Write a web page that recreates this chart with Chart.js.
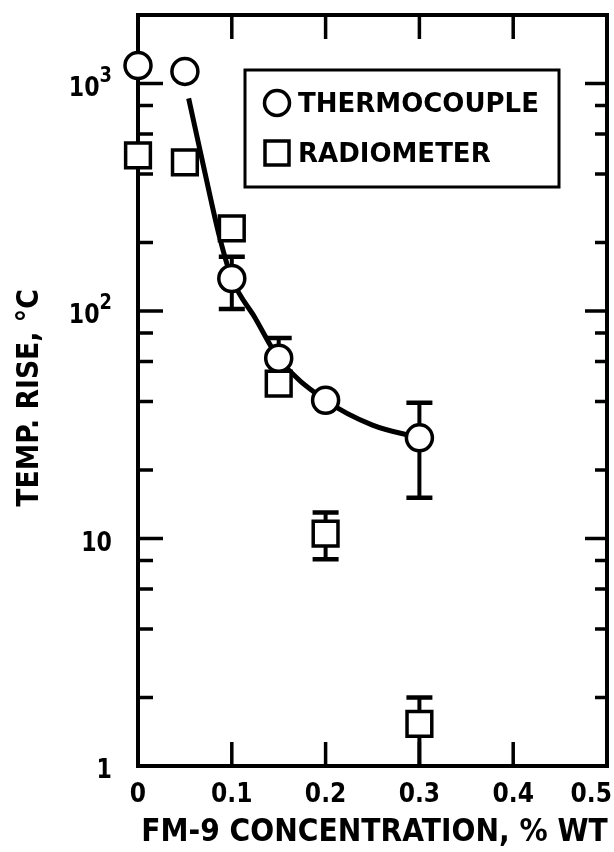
<!DOCTYPE html>
<html><head><meta charset="utf-8">
<script src="https://cdn.jsdelivr.net/npm/chart.js@4"></script>
<style>html,body{margin:0;padding:0;background:#fff}#wrap{width:614px;height:852px;position:relative}</style>
</head><body><div id="wrap"><canvas id="c"></canvas></div>
<script>
// ---- data ----
const thermoX = [0, 0.05, 0.1, 0.15, 0.2, 0.3];
const thermoY = [1200, 1130, 139, 62, 40.5, 27.7];
const thermoErrLow = [null, null, 102, 52, null, 15.1];
const thermoErrHigh = [null, null, 173, 76, null, 39.5];
const radioX = [0, 0.05, 0.1, 0.15, 0.2, 0.3];
const radioY = [483, 450, 231, 48, 10.5, 1.53];
const radioErrLow = [null, null, null, null, 8.1, 1];
const radioErrHigh = [null, null, null, null, 13, 2];
const curveX = [0.054, 0.07, 0.087, 0.1, 0.125, 0.15, 0.2, 0.25, 0.3];
const curveY = [860, 430, 211, 139, 93, 62, 40.5, 31.5, 27.7];
const xTickValues = [0, 0.1, 0.2, 0.3, 0.4, 0.5];
const xTickLabels = ['0', '0.1', '0.2', '0.3', '0.4', '0.5'];
const yMajorTicks = [1, 10, 100, 1000];
const yTickBase = ['1', '10', '10', '10'];
const yTickExp = ['', '', '2', '3'];
const yMinorTicks = [2, 4, 6, 8, 20, 40, 60, 80, 200, 400, 600, 800];
const seriesNames = ['THERMOCOUPLE', 'RADIOMETER'];
const xTitle = 'FM-9 CONCENTRATION, % WT';
const yTitle = 'TEMP. RISE, \u00B0C';

const F = "'DejaVu Sans', sans-serif";
function txt(ctx, s, x, y, size, align, sx) {
  ctx.save(); ctx.translate(x, y); ctx.scale(sx, 1);
  ctx.font = 'bold ' + size + 'px ' + F; ctx.textAlign = align; ctx.textBaseline = 'alphabetic';
  ctx.fillStyle = '#000'; ctx.fillText(s, 0, 0); ctx.restore();
}
function measure(ctx, s, size) { ctx.save(); ctx.font = 'bold ' + size + 'px ' + F; const w = ctx.measureText(s).width; ctx.restore(); return w; }

const decor = {
  id: 'decor',
  beforeDatasetsDraw(chart) {
    const { ctx, chartArea: a, scales: { x, y } } = chart;
    ctx.save();
    ctx.strokeStyle = '#000'; ctx.lineCap = 'butt';
    // frame
    ctx.lineWidth = 4;
    ctx.strokeRect(a.left, a.top, a.right - a.left, a.bottom - a.top);
    // ticks (inward on all four sides)
    ctx.lineWidth = 3.5;
    ctx.beginPath();
    yMajorTicks.forEach(v => { const p = y.getPixelForValue(v); ctx.moveTo(a.left, p); ctx.lineTo(a.left + 25, p); ctx.moveTo(a.right, p); ctx.lineTo(a.right - 22, p); });
    yMinorTicks.forEach(v => { const p = y.getPixelForValue(v); ctx.moveTo(a.left, p); ctx.lineTo(a.left + 15, p); ctx.moveTo(a.right, p); ctx.lineTo(a.right - 12, p); });
    xTickValues.forEach(v => { const p = x.getPixelForValue(v); if (p <= a.left + 2 || p >= a.right - 2) return; ctx.moveTo(p, a.top); ctx.lineTo(p, a.top + 24); ctx.moveTo(p, a.bottom); ctx.lineTo(p, a.bottom - 24); });
    ctx.stroke();
    // error bars
    function eb(xs, lo, hi) {
      for (let i = 0; i < xs.length; i++) {
        if (lo[i] == null) continue;
        const px = x.getPixelForValue(xs[i]);
        const p1 = y.getPixelForValue(lo[i]), p2 = y.getPixelForValue(hi[i]);
        ctx.lineWidth = 4; ctx.beginPath(); ctx.moveTo(px, p1); ctx.lineTo(px, p2); ctx.stroke();
        ctx.lineWidth = 4.5; ctx.beginPath();
        if (lo[i] > y.min) { ctx.moveTo(px - 13, p1); ctx.lineTo(px + 13, p1); }
        ctx.moveTo(px - 13, p2); ctx.lineTo(px + 13, p2); ctx.stroke();
      }
    }
    eb(thermoX, thermoErrLow, thermoErrHigh);
    eb(radioX, radioErrLow, radioErrHigh);
    ctx.restore();
  },
  afterDraw(chart) {
    const { ctx, chartArea: a, scales: { x, y } } = chart;
    ctx.save();
    // x tick labels
    xTickValues.forEach((v, i) => {
      let p = x.getPixelForValue(v);
      const w = measure(ctx, xTickLabels[i], 26) * 0.9;
      if (p + w / 2 > chart.width - 2) p = chart.width - 2 - w / 2;
      txt(ctx, xTickLabels[i], p, a.bottom + 27 + 0.365 * 26, 26, 'center', 0.9);
    });
    // y tick labels
    yMajorTicks.forEach((v, i) => {
      const p = y.getPixelForValue(v);
      const right = 112;
      let ew = 0;
      if (yTickExp[i]) {
        ew = measure(ctx, yTickExp[i], 21) * 0.85;
        txt(ctx, yTickExp[i], right, p + 0.365 * 26 - 11, 21, 'right', 0.85);
      }
      txt(ctx, yTickBase[i], right - ew, p + 0.365 * 26 + 3, 26, 'right', 0.85);
    });
    // axis titles
    txt(ctx, xTitle, (a.left + a.right) / 2 + 2, 829 + 0.365 * 32, 32, 'center', 0.88);
    ctx.save(); ctx.translate(27, 398); ctx.rotate(-Math.PI / 2);
    txt(ctx, yTitle, 0, 0.365 * 30, 30, 'center', 0.89);
    ctx.restore();
    // legend
    ctx.strokeStyle = '#000'; ctx.lineWidth = 3;
    ctx.strokeRect(245, 70, 314, 117);
    ctx.lineWidth = 3.5; ctx.fillStyle = '#fff';
    ctx.beginPath(); ctx.arc(277, 103, 12.5, 0, Math.PI * 2); ctx.fill(); ctx.stroke();
    ctx.beginPath(); ctx.rect(265, 141, 24, 24); ctx.fill(); ctx.stroke();
    txt(ctx, seriesNames[0], 298, 103 + 0.365 * 26, 26, 'left', 1);
    txt(ctx, seriesNames[1], 298, 153 + 0.365 * 26, 26, 'left', 1);
    ctx.restore();
  }
};

const pts = (xs, ys) => xs.map((v, i) => ({ x: v, y: ys[i] }));

new Chart(document.getElementById('c'), {
  type: 'line',
  data: {
    datasets: [
      { label: 'fit', data: pts(curveX, curveY), borderColor: '#000', borderWidth: 5, pointRadius: 0, cubicInterpolationMode: 'monotone', fill: false, order: 3, clip: false },
      { label: seriesNames[1], data: pts(radioX, radioY), showLine: false, pointStyle: 'rect', pointRadius: 17.5, pointBackgroundColor: '#fff', pointBorderColor: '#000', pointBorderWidth: 3.5, order: 2, clip: false },
      { label: seriesNames[0], data: pts(thermoX, thermoY), showLine: false, pointStyle: 'circle', pointRadius: 13, pointBackgroundColor: '#fff', pointBorderColor: '#000', pointBorderWidth: 3.5, order: 1, clip: false }
    ]
  },
  options: {
    responsive: true, maintainAspectRatio: false, animation: false, devicePixelRatio: 1,
    layout: { autoPadding: false, padding: { top: 15, right: 7, left: 0, bottom: 0 } },
    plugins: { legend: { display: false }, tooltip: { enabled: false } },
    scales: {
      x: { type: 'linear', min: 0, max: 0.5, grid: { display: false }, border: { display: false }, ticks: { display: false }, afterFit(s) { s.height = 86; } },
      y: { type: 'logarithmic', min: 1, max: 2000, grid: { display: false }, border: { display: false }, ticks: { display: false }, afterFit(s) { s.width = 138; } }
    }
  },
  plugins: [decor]
});
</script>
</body></html>
